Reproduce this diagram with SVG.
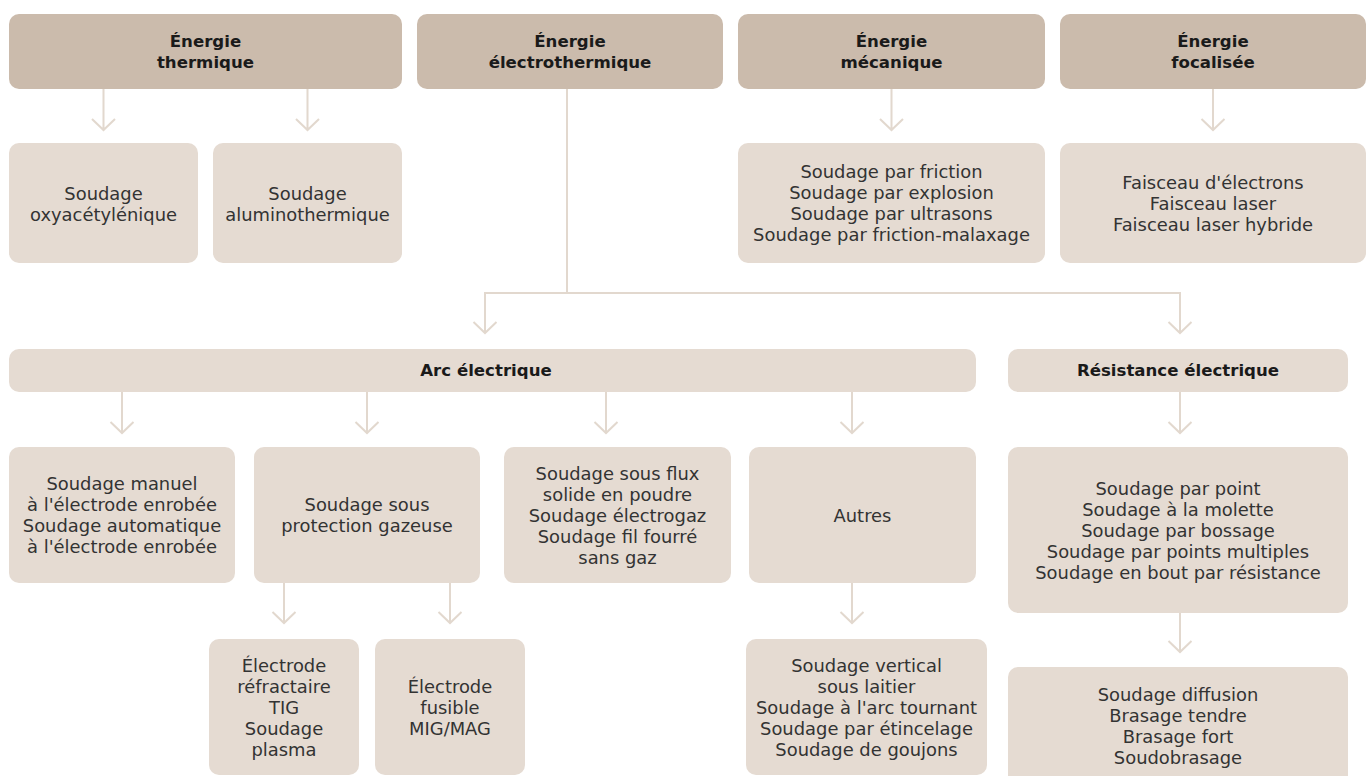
<svg xmlns="http://www.w3.org/2000/svg" width="1372" height="776" viewBox="0 0 1372 776">
<defs>
<style>
.hd{fill:#cbbbac}
.bx{fill:#e5dbd2}
.t{font-family:"DejaVu Sans",sans-serif;font-size:17.9px;fill:#333;text-anchor:middle;dominant-baseline:central}
.b{font-family:"DejaVu Sans",sans-serif;font-size:16.6px;font-weight:bold;fill:#1a1a1a;text-anchor:middle;dominant-baseline:central}
.c{fill:none;stroke:#e2d8ce;stroke-width:2}
</style>
</defs>
<rect width="1372" height="776" fill="#fff"/>
<g id="connectors" class="c">
<path d="M103.5 89V130M92 119L103.5 130L115 119"/>
<path d="M307.5 89V130M296 119L307.5 130L319 119"/>
<path d="M891.5 89V130M880 119L891.5 130L903 119"/>
<path d="M1213 89V130M1201.5 119L1213 130L1224.5 119"/>
<path d="M567 89V293M485 333V293H1180V333"/>
<path d="M473.5 322L485 333L496.5 322M1168.5 322L1180 333L1191.5 322"/>
<path d="M122 392V433M110.5 422L122 433L133.5 422"/>
<path d="M367 392V433M355.5 422L367 433L378.5 422"/>
<path d="M606 392V433M594.5 422L606 433L617.5 422"/>
<path d="M852 392V433M840.5 422L852 433L863.5 422"/>
<path d="M284 583V623M272.5 612L284 623L295.5 612"/>
<path d="M450 583V623M438.5 612L450 623L461.5 612"/>
<path d="M852 583V623M840.5 612L852 623L863.5 612"/>
<path d="M1180 392V433M1168.5 422L1180 433L1191.5 422"/>
<path d="M1180 613V652M1168.5 641L1180 652L1191.5 641"/>
</g>
<g id="n-thermique"><rect class="hd" x="9" y="14" width="393" height="75" rx="10"/><text class="b" x="205.5" y="41">Énergie</text><text class="b" x="205.5" y="62">thermique</text></g>
<g id="n-electrothermique"><rect class="hd" x="417" y="14" width="306" height="75" rx="10"/><text class="b" x="570" y="41">Énergie</text><text class="b" x="570" y="62">électrothermique</text></g>
<g id="n-mecanique"><rect class="hd" x="738" y="14" width="307" height="75" rx="10"/><text class="b" x="891.5" y="41">Énergie</text><text class="b" x="891.5" y="62">mécanique</text></g>
<g id="n-focalisee"><rect class="hd" x="1060" y="14" width="306" height="75" rx="10"/><text class="b" x="1213" y="41">Énergie</text><text class="b" x="1213" y="62">focalisée</text></g>
<g id="n-oxy"><rect class="bx" x="9" y="143" width="189" height="120" rx="10"/><text class="t" x="103.5" y="193">Soudage</text><text class="t" x="103.5" y="214">oxyacétylénique</text></g>
<g id="n-alumino"><rect class="bx" x="213" y="143" width="189" height="120" rx="10"/><text class="t" x="307.5" y="193">Soudage</text><text class="t" x="307.5" y="214">aluminothermique</text></g>
<g id="n-meca-list"><rect class="bx" x="738" y="143" width="307" height="120" rx="10"/><text class="t" x="891.5" y="171.5">Soudage par friction</text><text class="t" x="891.5" y="192.5">Soudage par explosion</text><text class="t" x="891.5" y="213.5">Soudage par ultrasons</text><text class="t" x="891.5" y="234.5">Soudage par friction-malaxage</text></g>
<g id="n-focal-list"><rect class="bx" x="1060" y="143" width="306" height="120" rx="10"/><text class="t" x="1213" y="182">Faisceau d'électrons</text><text class="t" x="1213" y="203">Faisceau laser</text><text class="t" x="1213" y="224">Faisceau laser hybride</text></g>
<g id="n-arc"><rect class="bx" x="9" y="349" width="967" height="43" rx="10"/><text class="b" x="486" y="370.5">Arc électrique</text></g>
<g id="n-resistance"><rect class="bx" x="1008" y="349" width="340" height="43" rx="10"/><text class="b" x="1178" y="370.5">Résistance électrique</text></g>
<g id="n-manuel"><rect class="bx" x="9" y="447" width="226" height="136" rx="10"/><text class="t" x="122" y="483.5">Soudage manuel</text><text class="t" x="122" y="504.5">à l'électrode enrobée</text><text class="t" x="122" y="525.5">Soudage automatique</text><text class="t" x="122" y="546.5">à l'électrode enrobée</text></g>
<g id="n-gaz"><rect class="bx" x="254" y="447" width="226" height="136" rx="10"/><text class="t" x="367" y="504.5">Soudage sous</text><text class="t" x="367" y="525.5">protection gazeuse</text></g>
<g id="n-flux"><rect class="bx" x="504" y="447" width="227" height="136" rx="10"/><text class="t" x="617.5" y="473">Soudage sous flux</text><text class="t" x="617.5" y="494">solide en poudre</text><text class="t" x="617.5" y="515">Soudage électrogaz</text><text class="t" x="617.5" y="536">Soudage fil fourré</text><text class="t" x="617.5" y="557">sans gaz</text></g>
<g id="n-autres"><rect class="bx" x="749" y="447" width="227" height="136" rx="10"/><text class="t" x="862.5" y="515">Autres</text></g>
<g id="n-tig"><rect class="bx" x="209" y="639" width="150" height="136" rx="10"/><text class="t" x="284" y="665">Électrode</text><text class="t" x="284" y="686">réfractaire</text><text class="t" x="284" y="707">TIG</text><text class="t" x="284" y="728">Soudage</text><text class="t" x="284" y="749">plasma</text></g>
<g id="n-mig"><rect class="bx" x="375" y="639" width="150" height="136" rx="10"/><text class="t" x="450" y="686">Électrode</text><text class="t" x="450" y="707">fusible</text><text class="t" x="450" y="728">MIG/MAG</text></g>
<g id="n-autres-list"><rect class="bx" x="746" y="639" width="241" height="136" rx="10"/><text class="t" x="866.5" y="665">Soudage vertical</text><text class="t" x="866.5" y="686">sous laitier</text><text class="t" x="866.5" y="707">Soudage à l'arc tournant</text><text class="t" x="866.5" y="728">Soudage par étincelage</text><text class="t" x="866.5" y="749">Soudage de goujons</text></g>
<g id="n-resist-list"><rect class="bx" x="1008" y="447" width="340" height="166" rx="10"/><text class="t" x="1178" y="488">Soudage par point</text><text class="t" x="1178" y="509">Soudage à la molette</text><text class="t" x="1178" y="530">Soudage par bossage</text><text class="t" x="1178" y="551">Soudage par points multiples</text><text class="t" x="1178" y="572">Soudage en bout par résistance</text></g>
<g id="n-brasage"><rect class="bx" x="1008" y="667" width="340" height="120" rx="10"/><text class="t" x="1178" y="694">Soudage diffusion</text><text class="t" x="1178" y="715">Brasage tendre</text><text class="t" x="1178" y="736">Brasage fort</text><text class="t" x="1178" y="757">Soudobrasage</text></g>
</svg>
